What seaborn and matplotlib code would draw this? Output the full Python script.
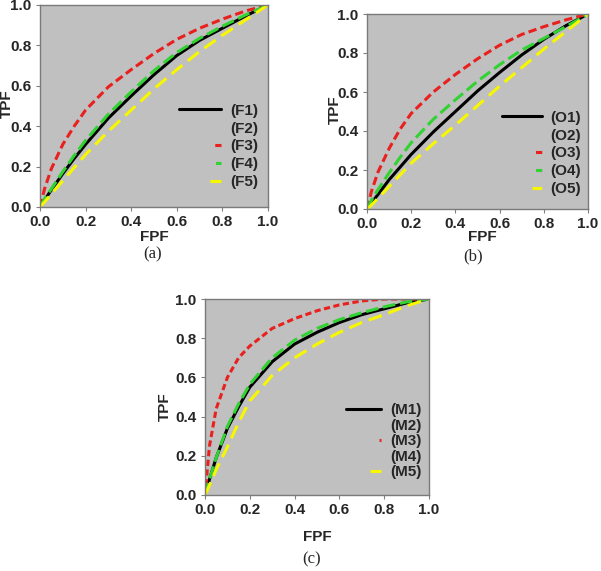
import numpy as np
import pandas as pd
import matplotlib
matplotlib.use("Agg")
import matplotlib.pyplot as plt
from matplotlib.lines import Line2D
from matplotlib.ticker import FormatStrFormatter
import seaborn as sns

# ROC curves (FPF grid shared by every curve)
fpf = [0.0, 0.02, 0.05, 0.1, 0.15, 0.2, 0.3, 0.4, 0.5, 0.6, 0.7, 0.8, 0.9, 1.0]

# panel (a)
tpf_f1 = [0.0, 0.035, 0.085, 0.165, 0.24, 0.31, 0.44, 0.55, 0.655, 0.75, 0.825, 0.885, 0.945, 1.0]
tpf_f3 = [0.0, 0.09, 0.19, 0.31, 0.40, 0.48, 0.595, 0.68, 0.76, 0.83, 0.885, 0.93, 0.97, 1.0]
tpf_f4 = [0.0, 0.04, 0.09, 0.175, 0.255, 0.33, 0.46, 0.57, 0.675, 0.765, 0.835, 0.895, 0.95, 1.0]
tpf_f5 = [0.0, 0.025, 0.065, 0.13, 0.195, 0.26, 0.375, 0.48, 0.585, 0.68, 0.77, 0.85, 0.925, 1.0]

# panel (b)
tpf_o1 = [0.0, 0.03, 0.075, 0.15, 0.215, 0.28, 0.395, 0.50, 0.605, 0.70, 0.79, 0.87, 0.94, 1.0]
tpf_o3 = [0.0, 0.09, 0.19, 0.31, 0.41, 0.49, 0.60, 0.69, 0.77, 0.84, 0.895, 0.935, 0.97, 1.0]
tpf_o4 = [0.0, 0.045, 0.10, 0.185, 0.265, 0.34, 0.46, 0.56, 0.655, 0.74, 0.815, 0.875, 0.935, 1.0]
tpf_o5 = [0.0, 0.02, 0.055, 0.115, 0.175, 0.235, 0.335, 0.43, 0.53, 0.63, 0.725, 0.82, 0.91, 1.0]

# panel (c)
tpf_m1 = [0.0, 0.08, 0.19, 0.34, 0.45, 0.55, 0.68, 0.77, 0.83, 0.88, 0.92, 0.95, 0.98, 1.0]
tpf_m3 = [0.0, 0.25, 0.44, 0.60, 0.70, 0.76, 0.85, 0.90, 0.94, 0.97, 0.99, 1.0, 1.0, 1.0]
tpf_m4 = [0.0, 0.08, 0.19, 0.35, 0.465, 0.565, 0.70, 0.79, 0.85, 0.895, 0.93, 0.96, 0.985, 1.0]
tpf_m5 = [0.0, 0.05, 0.13, 0.245, 0.37, 0.48, 0.61, 0.70, 0.77, 0.83, 0.88, 0.92, 0.965, 1.0]

labels_a = ["(F1)", "(F2)", "(F3)", "(F4)", "(F5)"]
labels_b = ["(O1)", "(O2)", "(O3)", "(O4)", "(O5)"]
labels_c = ["(M1)", "(M2)", "(M3)", "(M4)", "(M5)"]
ticks = [0.0, 0.2, 0.4, 0.6, 0.8, 1.0]

BLACK, RED, GREEN, YELLOW = "#000000", "#E8201E", "#33D233", "#F7F700"
GRAY_BG = "#C0C0C0"
FS = 11
LW = 2.2

sns.set_style("ticks")
plt.rcParams["font.family"] = ["Liberation Sans", "DejaVu Sans"]
plt.rcParams["font.weight"] = "bold"
plt.rcParams["lines.scale_dashes"] = False

W, H = 601, 571
fig = plt.figure(figsize=(W / 100, H / 100), dpi=100)


def px_axes(left, top, right, bottom):
    return fig.add_axes([left / W, 1 - bottom / H, (right - left) / W, (bottom - top) / H])


def draw_panel(ax, curves, labels, dash_styles, leg_anchor, handlelen, spacing,
               xlab_pos, ylab_pos):
    names = [labels[0], labels[2], labels[3], labels[4]]
    df = pd.concat([pd.DataFrame({"FPF": fpf, "TPF": t, "curve": n})
                    for n, t in zip(names, curves)], ignore_index=True)
    sns.lineplot(data=df, x="FPF", y="TPF", hue="curve", style="curve",
                 hue_order=names, style_order=names,
                 palette=dict(zip(names, [BLACK, RED, GREEN, YELLOW])),
                 dashes=dict(zip(names, ["", dash_styles[0], dash_styles[1], dash_styles[2]])),
                 linewidth=LW, estimator=None, sort=False, legend=False, ax=ax)

    ax.set_facecolor(GRAY_BG)
    ax.set_xlim(0, 1)
    ax.set_ylim(0, 1)
    ax.set_xticks(ticks)
    ax.set_yticks(ticks)
    ax.xaxis.set_major_formatter(FormatStrFormatter("%.1f"))
    ax.yaxis.set_major_formatter(FormatStrFormatter("%.1f"))
    ax.tick_params(length=3, width=0.8, color="#808080", labelsize=FS, pad=3)
    for s in ax.spines.values():
        s.set_visible(True)
        s.set_color("#7A7A7A")
        s.set_linewidth(1.0)

    ax.set_xlabel("FPF", fontsize=11, fontweight="bold", va="center")
    ax.set_ylabel("TPF", fontsize=11, fontweight="bold", va="center")
    ax.xaxis.set_label_coords(*xlab_pos)
    ax.yaxis.set_label_coords(*ylab_pos)

    # legend handles: only the tail of each dash pattern shows in the original
    hl_pt = handlelen * FS
    handles = [Line2D([], [], color=BLACK, lw=LW)]
    handles.append(Line2D([], [], color="none", lw=0))
    for col, tail in zip([RED, GREEN, YELLOW], dash_styles[3]):
        if tail <= 0:
            handles.append(Line2D([], [], color="none", lw=0))
        else:
            handles.append(Line2D([], [], color=col, lw=LW,
                                  linestyle=(0, (0.01, hl_pt - tail, tail, 200))))
    ax.legend(handles, labels, loc="center left", bbox_to_anchor=leg_anchor,
              frameon=False, fontsize=FS, handlelength=handlelen,
              handletextpad=0.6, labelspacing=spacing, borderpad=0,
              borderaxespad=0)


ax_a = px_axes(40, 5, 268, 207)
draw_panel(ax_a, [tpf_f1, tpf_f3, tpf_f4, tpf_f5], labels_a,
           [(6, 3), (9, 3.5), (10, 5), (4.5, 4, 8)],
           (0.61, 0.30), 2.75, 0.25, (0.5, -0.15), (-0.145, 0.51))

ax_b = px_axes(367, 14, 588, 209)
draw_panel(ax_b, [tpf_o1, tpf_o3, tpf_o4, tpf_o5], labels_b,
           [(6, 3), (9, 3.5), (10, 5), (4.5, 4.5, 7)],
           (0.61, 0.285), 2.6, 0.25, (0.52, -0.145), (-0.145, 0.508))

ax_c = px_axes(205, 299, 429, 495)
draw_panel(ax_c, [tpf_m1, tpf_m3, tpf_m4, tpf_m5], labels_c,
           [(4.5, 2.5), (9, 3.5), (10, 5), (1.5, 0, 8)],
           (0.63, 0.275), 2.3, 0.1, (0.5, -0.214), (-0.179, 0.449))

for txt, x, y in [("(a)", 153, 254), ("(b)", 473, 256), ("(c)", 312, 559)]:
    fig.text(x / W, 1 - y / H, txt, ha="center", va="center", fontsize=12,
             fontweight="normal", family=["Liberation Serif", "DejaVu Serif"])

fig.savefig("out.png", dpi=100)
